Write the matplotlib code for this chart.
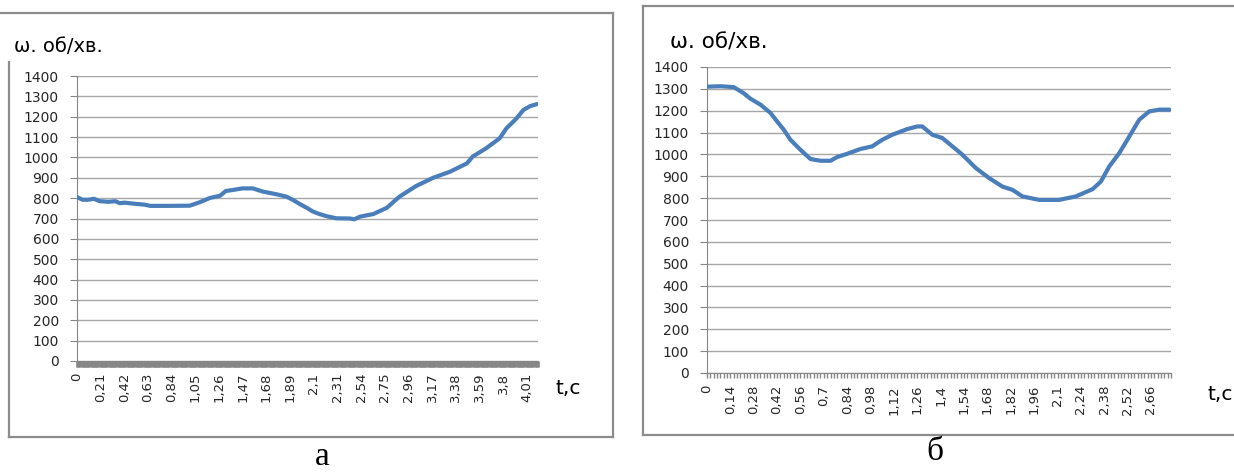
import matplotlib
matplotlib.use('Agg')
import matplotlib.pyplot as plt
from matplotlib.ticker import MultipleLocator
import numpy as np

W, H = 1234, 472

# chart (а): time, s  /  speed, rpm
t_a = [0, 0.05, 0.10, 0.15, 0.20, 0.28, 0.34, 0.38, 0.42, 0.50,
       0.60, 0.65, 0.80, 1.00, 1.09, 1.18, 1.27, 1.32, 1.38, 1.47,
       1.56, 1.65, 1.77, 1.86, 1.92, 1.98, 2.04, 2.09, 2.15, 2.21,
       2.30, 2.42, 2.46, 2.51, 2.63, 2.75, 2.86, 3.01, 3.16, 3.31,
       3.46, 3.51, 3.63, 3.75, 3.81, 3.90, 3.96, 4.02, 4.08]
w_a = [805, 792, 792, 797, 785, 782, 785, 775, 778, 773,
       768, 762, 762, 763, 780, 801, 812, 835, 840, 848,
       848, 832, 819, 807, 790, 770, 752, 735, 722, 712,
       701, 700, 696, 709, 722, 753, 807, 860, 900, 930,
       971, 1004, 1045, 1094, 1143, 1192, 1233, 1252, 1262]
labels_a = ['0', '0,21', '0,42', '0,63', '0,84', '1,05', '1,26', '1,47', '1,68', '1,89',
            '2,1', '2,31', '2,54', '2,75', '2,96', '3,17', '3,38', '3,59', '3,8', '4,01']

# chart (б)
t_b = [0, 0.08, 0.16, 0.22, 0.26, 0.32, 0.38, 0.42, 0.46, 0.50,
       0.56, 0.62, 0.68, 0.74, 0.78, 0.84, 0.92, 0.99, 1.05, 1.11,
       1.20, 1.26, 1.29, 1.35, 1.41, 1.47, 1.53, 1.61, 1.69, 1.77,
       1.83, 1.89, 1.99, 2.11, 2.21, 2.31, 2.36, 2.41, 2.47, 2.53,
       2.59, 2.65, 2.71, 2.77]
w_b = [1310, 1312, 1308, 1280, 1255, 1228, 1190, 1151, 1113, 1067,
       1021, 979, 971, 971, 988, 1003, 1025, 1037, 1067, 1090,
       1116, 1128, 1128, 1090, 1075, 1037, 999, 938, 892, 853,
       838, 808, 792, 792, 808, 841, 876, 945, 1006, 1082,
       1159, 1197, 1205, 1205]
labels_b = ['0', '0,14', '0,28', '0,42', '0,56', '0,7', '0,84', '0,98', '1,12', '1,26',
            '1,4', '1,54', '1,68', '1,82', '1,96', '2,1', '2,24', '2,38', '2,52', '2,66']

plt.rcParams['font.family'] = ['DejaVu Sans']

fig = plt.figure(figsize=(W / 100, H / 100), dpi=100)


def rect(x0, y0, x1, y1):
    return [x0 / W, 1 - y1 / H, (x1 - x0) / W, (y1 - y0) / H]


def fline(xs, ys):
    fig.add_artist(plt.Line2D([x / W for x in xs], [1 - y / H for y in ys],
                              transform=fig.transFigure, color='#8c8c8c', lw=1.6))


def draw(ax, t, w, labels, step, xmax, minor, mwidth, mlen, pad):
    ax.plot(t, w, color='#4a7ebb', lw=3.0, solid_capstyle='round', zorder=3)
    ax.set_xlim(0, xmax)
    ax.set_ylim(0, 1400)
    ax.set_yticks(range(0, 1401, 100))
    ax.yaxis.grid(True, color='#a6a6a6', lw=1)
    ax.set_axisbelow(True)
    ax.set_xticks(np.arange(len(labels)) * step)
    ax.set_xticklabels(labels, rotation=90)
    ax.xaxis.set_minor_locator(MultipleLocator(minor))
    for s in ['top', 'right']:
        ax.spines[s].set_visible(False)
    for s in ['left', 'bottom']:
        ax.spines[s].set_color('#868686')
    ax.tick_params(axis='y', length=5, width=0.8, color='#868686', pad=8,
                   labelsize=10, labelcolor='#262626')
    ax.tick_params(axis='x', which='both', length=mlen, width=mwidth,
                   color='#868686', pad=pad, labelsize=9.5, labelcolor='#262626')


ax1 = fig.add_axes(rect(77, 76, 538, 361))
draw(ax1, t_a, w_a, labels_a, 0.21, 4.09, 0.01, 1.9, 4.3, 4)

ax2 = fig.add_axes(rect(707, 67, 1171, 373))
draw(ax2, t_b, w_b, labels_b, 0.14, 2.78, 0.02, 1.0, 3.6, 5)

# frames around the two charts
fline([0, 613], [13, 13])
fline([613, 613], [13, 437])
fline([9, 613], [437, 437])
fline([9, 9], [62, 437])
fline([643, 1234], [6, 6])
fline([643, 643], [6, 435])
fline([643, 1234], [435, 435])

fig.text(14 / W, 1 - 46 / H, 'ω. об/хв.', fontsize=14, va='center', ha='left')
fig.text(670 / W, 1 - 42 / H, 'ω. об/хв.', fontsize=15.5, va='center', ha='left')
fig.text(568 / W, 1 - 388 / H, 't,c', fontsize=14.5, va='center', ha='center')
fig.text(1207 / W, 1 - 395 / H, 't,c', fontsize=14.5, va='center', ha='left')

fig.text(322 / W, 1 - 457 / H, 'а', fontsize=24, family='Liberation Serif',
         va='center', ha='center')
fig.text(935 / W, 1 - 452 / H, 'б', fontsize=24, family='Liberation Serif',
         va='center', ha='center')

fig.savefig('out.png', dpi=100)
